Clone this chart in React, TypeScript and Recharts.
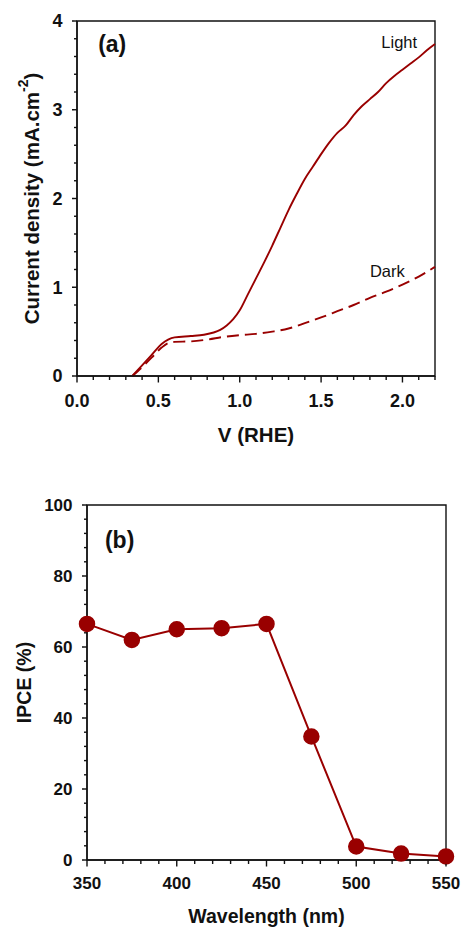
import React from 'react'
import { LineChart, Line, XAxis, YAxis, ReferenceDot, ReferenceArea } from 'recharts'

const RED = '#990000'
const INK = '#111'
const FONT = '"Liberation Sans", Arial, sans-serif'

// (a) current density vs potential
const lightV = [0.34, 0.4, 0.46, 0.52, 0.56, 0.6, 0.7, 0.78, 0.84, 0.88, 0.92, 0.96, 1.0, 1.05, 1.1, 1.15, 1.2, 1.25, 1.3, 1.35, 1.4, 1.45, 1.5, 1.55, 1.6, 1.65, 1.7, 1.75, 1.8, 1.85, 1.9, 1.95, 2.0, 2.05, 2.1, 2.15, 2.2]
const lightJ = [0, 0.12, 0.24, 0.36, 0.41, 0.435, 0.45, 0.465, 0.49, 0.52, 0.57, 0.64, 0.74, 0.92, 1.1, 1.28, 1.47, 1.67, 1.87, 2.05, 2.22, 2.36, 2.5, 2.63, 2.74, 2.82, 2.94, 3.04, 3.12, 3.2, 3.3, 3.38, 3.45, 3.52, 3.59, 3.67, 3.74]
const darkV = [0.34, 0.4, 0.46, 0.52, 0.56, 0.6, 0.7, 0.8, 0.9, 1.0, 1.1, 1.2, 1.3, 1.4, 1.5, 1.6, 1.7, 1.8, 1.9, 2.0, 2.1, 2.2]
const darkJ = [0, 0.1, 0.21, 0.32, 0.37, 0.385, 0.39, 0.41, 0.44, 0.46, 0.475, 0.5, 0.535, 0.595, 0.66, 0.73, 0.8, 0.88, 0.95, 1.03, 1.12, 1.23]

// (b) IPCE spectrum
const wavelength = [350, 375, 400, 425, 450, 475, 500, 525, 550]
const ipce = [66.5, 62, 65, 65.3, 66.5, 34.8, 3.8, 1.8, 1.0]

const vTicks = [0, 0.5, 1.0, 1.5, 2.0]
const jTicks = [0, 1, 2, 3, 4]
const wlTicks = [350, 400, 450, 500, 550]
const ipceTicks = [0, 20, 40, 60, 80, 100]

const range = (a: number, b: number, step: number) =>
  Array.from({ length: Math.round((b - a) / step) + 1 }, (_, i) => +(a + i * step).toFixed(4))

const lightData = lightV.map((v, i) => ({ v, j: lightJ[i] }))
const darkData = darkV.map((v, i) => ({ v, j: darkJ[i] }))
const ipceData = wavelength.map((wl, i) => ({ wl, ipce: ipce[i] }))

const isMajor = (list: number[], v: number) => list.some((m) => Math.abs(m - v) < 1e-6)

// native tick line = minor length; majors get a short extension + label
function BottomTick({ x, y, payload, major, dy, size, fmt }: any) {
  if (!isMajor(major, payload.value)) return <g />
  return (
    <g>
      <line x1={x} x2={x} y1={y} y2={y + 2.5} stroke={INK} strokeWidth={1.4} />
      <text x={x} y={y + dy} textAnchor="middle" fontFamily={FONT} fontWeight="bold" fontSize={size} fill={INK}>
        {fmt(payload.value)}
      </text>
    </g>
  )
}

function LeftTick({ x, y, payload, major, size }: any) {
  if (!isMajor(major, payload.value)) return <g />
  return (
    <g>
      <line x1={x} x2={x - 2} y1={y} y2={y} stroke={INK} strokeWidth={1.4} />
      <text x={x - 11.5} y={y} dy="0.36em" textAnchor="end" fontFamily={FONT} fontWeight="bold" fontSize={size} fill={INK}>
        {payload.value}
      </text>
    </g>
  )
}

function Note({ viewBox, text, size, bold }: any) {
  return (
    <text x={viewBox.x} y={viewBox.y} fontFamily={FONT} fontSize={size} fontWeight={bold ? 'bold' : 'normal'} fill={INK}>
      {text}
    </text>
  )
}

function XTitle({ viewBox, text, dy, size }: any) {
  return (
    <text x={viewBox.x + viewBox.width / 2} y={viewBox.y + dy} textAnchor="middle" fontFamily={FONT} fontWeight="bold" fontSize={size} fill={INK}>
      {text}
    </text>
  )
}

function YTitle({ viewBox, cx, shift, size, children }: any) {
  const x = viewBox.x + cx
  const y = viewBox.y + viewBox.height / 2 + shift
  return (
    <text x={x} y={y} transform={`rotate(-90, ${x}, ${y})`} textAnchor="middle" dominantBaseline="central" fontFamily={FONT} fontWeight="bold" fontSize={size} fill={INK}>
      {children}
    </text>
  )
}

const axisStroke = { stroke: INK, strokeWidth: 1.4 }

function PanelA() {
  return (
    <LineChart width={462} height={460} margin={{ top: 21, right: 27, left: 0, bottom: 54 }}>
      <XAxis
        dataKey="v"
        type="number"
        domain={[0, 2.2]}
        ticks={range(0, 2.2, 0.1)}
        interval={0}
        height={30}
        tickSize={4}
        tickMargin={0}
        axisLine={axisStroke}
        tickLine={axisStroke}
        tick={(p: any) => <BottomTick {...p} major={vTicks} dy={27} size={18} fmt={(v: number) => v.toFixed(1)} />}
        label={{ content: (p: any) => <XTitle {...p} text="V (RHE)" dy={66} size={20.5} /> }}
      />
      <YAxis
        type="number"
        domain={[0, 4]}
        ticks={range(0, 4, 0.2)}
        interval={0}
        width={77}
        tickSize={3}
        tickMargin={0}
        axisLine={axisStroke}
        tickLine={axisStroke}
        tick={(p: any) => <LeftTick {...p} major={jTicks} size={18} />}
        label={{
          content: (p: any) => (
            <YTitle {...p} cx={31} shift={0} size={20.5}>
              Current density (mA.cm
              <tspan dy={-8} fontSize={14}>-2</tspan>
              <tspan dy={8}>)</tspan>
            </YTitle>
          ),
        }}
      />
      <ReferenceArea x1={0} x2={2.2} y1={0} y2={4} fill="none" stroke={INK} strokeWidth={1.4} ifOverflow="visible" />
      <Line data={lightData} dataKey="j" type="monotone" stroke={RED} strokeWidth={1.9} dot={false} isAnimationActive={false} />
      <Line data={darkData} dataKey="j" type="monotone" stroke={RED} strokeWidth={1.9} strokeDasharray="12 6" dot={false} isAnimationActive={false} />
      <ReferenceDot x={0.13} y={3.65} r={0} fill="none" stroke="none" label={<Note text="(a)" size={23} bold />} />
      <ReferenceDot x={1.87} y={3.7} r={0} fill="none" stroke="none" label={<Note text="Light" size={16.5} />} />
      <ReferenceDot x={1.8} y={1.115} r={0} fill="none" stroke="none" label={<Note text="Dark" size={16.5} />} />
    </LineChart>
  )
}

function PanelB() {
  return (
    <LineChart width={462} height={468} data={ipceData} margin={{ top: 45, right: 16, left: 0, bottom: 38 }}>
      <XAxis
        dataKey="wl"
        type="number"
        domain={[350, 550]}
        ticks={range(350, 550, 10)}
        interval={0}
        height={30}
        tickSize={4}
        tickMargin={0}
        axisLine={axisStroke}
        tickLine={axisStroke}
        tick={(p: any) => <BottomTick {...p} major={wlTicks} dy={25} size={17} fmt={(v: number) => String(v)} />}
        label={{ content: (p: any) => <XTitle {...p} text="Wavelength (nm)" dy={63} size={19.5} /> }}
      />
      <YAxis
        type="number"
        domain={[0, 100]}
        ticks={range(0, 100, 4)}
        interval={0}
        width={87}
        tickSize={3}
        tickMargin={0}
        axisLine={axisStroke}
        tickLine={axisStroke}
        tick={(p: any) => <LeftTick {...p} major={ipceTicks} size={17} />}
        label={{ content: (p: any) => <YTitle {...p} cx={24} shift={0} size={19.5}>IPCE (%)</YTitle> }}
      />
      <ReferenceArea x1={350} x2={550} y1={0} y2={100} fill="none" stroke={INK} strokeWidth={1.4} ifOverflow="visible" />
      <Line
        dataKey="ipce"
        type="linear"
        stroke={RED}
        strokeWidth={2}
        dot={{ r: 7.5, fill: RED, stroke: RED, strokeWidth: 1.5 }}
        isAnimationActive={false}
      />
      <ReferenceDot x={360} y={87.9} r={0} fill="none" stroke="none" label={<Note text="(b)" size={23} bold />} />
    </LineChart>
  )
}

export default function App() {
  return (
    <div style={{ position: 'absolute', left: 0, top: 0, width: 462, height: 928, background: '#fff' }}>
      <PanelA />
      <PanelB />
    </div>
  )
}
